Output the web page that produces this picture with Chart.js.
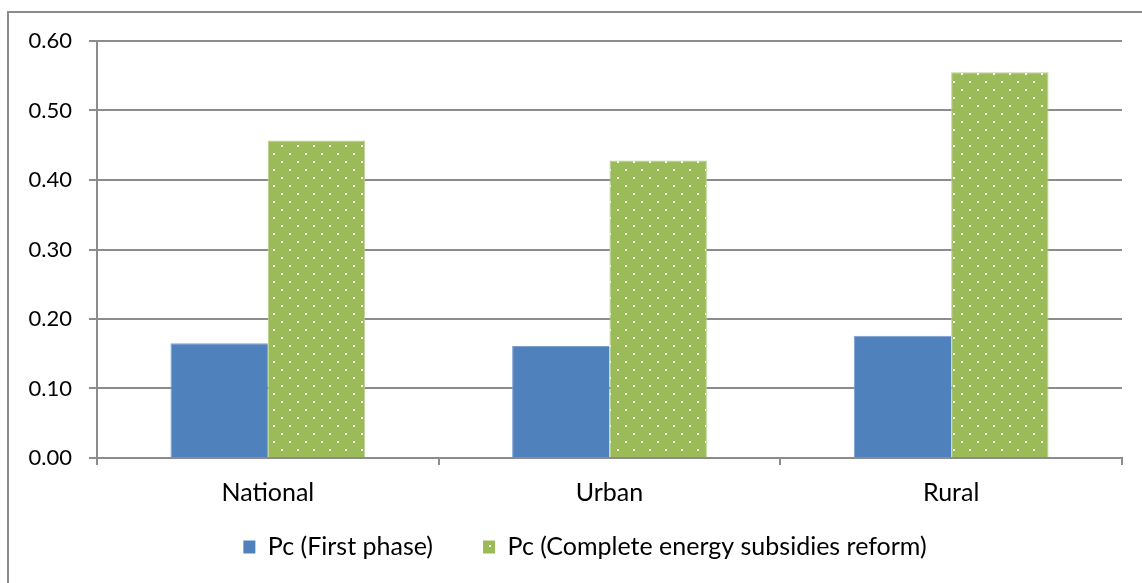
<!DOCTYPE html>
<html>
<head>
<meta charset="utf-8">
<script src="https://cdn.jsdelivr.net/npm/chart.js@4.4.1/dist/chart.umd.min.js"></script>
<style>
  html, body { margin: 0; padding: 0; background: #ffffff; }
  #wrap { position: absolute; left: 0; top: 0; width: 1142px; height: 583px; }
</style>
</head>
<body>
<div id="wrap"><canvas id="chart" width="1142" height="583"></canvas></div>
<script>
// Price-change indicator (Pc) by area
const categories = ['National', 'Urban', 'Rural'];
const firstPhase = [0.165, 0.161, 0.176];
const completeReform = [0.457, 0.428, 0.555];
const yTickValues = [0.00, 0.10, 0.20, 0.30, 0.40, 0.50, 0.60];

const seriesNames = ['Pc (First phase)', 'Pc (Complete energy subsidies reform)'];
const blue = '#4f81bd';
const green = '#9bbb59';
const axisGray = '#8c8c8c';
const fontFamily = 'Lato, "Liberation Sans", sans-serif';

// Green fill with a staggered grid of small white dots
function dotPattern() {
  const tile = document.createElement('canvas');
  tile.width = 16; tile.height = 16;
  const c = tile.getContext('2d');
  c.fillStyle = green;
  c.fillRect(0, 0, 16, 16);
  c.fillStyle = '#ffffff';
  c.fillRect(1, 9, 2, 2);
  c.fillRect(9, 1, 2, 2);
  return c.createPattern(tile, 'repeat');
}

// White background and outer frame line
const framePlugin = {
  id: 'frame',
  beforeDraw(chart) {
    const ctx = chart.ctx;
    ctx.save();
    ctx.fillStyle = '#ffffff';
    ctx.fillRect(0, 0, chart.width, chart.height);
    ctx.strokeStyle = axisGray;
    ctx.lineWidth = 2;
    ctx.strokeRect(8, 12, chart.width + 40, chart.height + 40);
    ctx.restore();
  }
};

// Place the legend row below the category labels
const legendPlacement = {
  id: 'legendPlacement',
  afterLayout(chart) {
    const lg = chart.legend;
    if (!lg) return;
    const pad = lg.options.labels.padding;
    const size = lg.options.labels.font.size;
    lg.top = 547 - pad - size / 2;
    lg.bottom = chart.height;
    lg.height = lg.bottom - lg.top;
    lg.left += 24;
    lg.right += 24;
  }
};

const ctx = document.getElementById('chart').getContext('2d');
new Chart(ctx, {
  type: 'bar',
  data: {
    labels: categories,
    datasets: [
      {
        label: seriesNames[0],
        data: firstPhase,
        backgroundColor: blue,
        borderColor: '#7c9fcf',
        borderWidth: { top: 1, left: 1, right: 0, bottom: 0 },
        categoryPercentage: 0.57,
        barPercentage: 1.0
      },
      {
        label: seriesNames[1],
        data: completeReform,
        backgroundColor: dotPattern(),
        borderColor: '#b9d08f',
        borderWidth: { top: 1, left: 1, right: 1, bottom: 0 },
        categoryPercentage: 0.57,
        barPercentage: 1.0
      }
    ]
  },
  options: {
    responsive: false,
    animation: false,
    devicePixelRatio: 1,
    layout: { padding: { left: 0, right: 20, top: 41, bottom: 15 } },
    plugins: {
      tooltip: { enabled: false },
      legend: {
        position: 'bottom',
        maxHeight: 60,
        labels: {
          color: '#000000',
          font: { family: fontFamily, size: 25 },
          boxWidth: 12,
          boxHeight: 13,
          padding: 50,
          generateLabels(chart) {
            return chart.data.datasets.map((ds, i) => ({
              text: ds.label,
              fillStyle: ds.backgroundColor,
              strokeStyle: ds.backgroundColor,
              lineWidth: 0,
              hidden: false,
              datasetIndex: i
            }));
          }
        }
      }
    },
    scales: {
      x: {
        grid: {
          display: true,
          offset: true,
          drawOnChartArea: false,
          drawTicks: true,
          tickLength: 7,
          color: axisGray,
          lineWidth: 2
        },
        border: { display: true, color: axisGray, width: 2 },
        ticks: {
          color: '#000000',
          font: { family: fontFamily, size: 25 },
          padding: 13
        },
        afterFit(scale) { scale.height = 50; }
      },
      y: {
        min: 0,
        max: 0.6,
        afterBuildTicks(scale) {
          scale.ticks = yTickValues.map(v => ({ value: v }));
        },
        grid: {
          color: axisGray,
          lineWidth: 2,
          tickLength: 8,
          drawTicks: true
        },
        border: { display: true, color: axisGray, width: 2 },
        ticks: {
          color: '#000000',
          font: { family: fontFamily, size: 22 },
          padding: 17,
          callback: v => Number(v).toFixed(2)
        },
        afterFit(scale) { scale.width = 97; }
      }
    }
  },
  plugins: [framePlugin, legendPlacement]
});
</script>
</body>
</html>
